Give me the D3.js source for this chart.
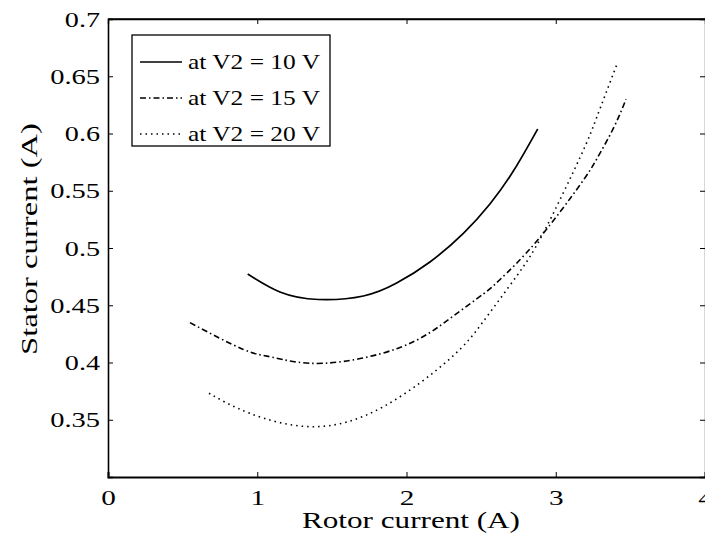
<!DOCTYPE html>
<html>
<head>
<meta charset="utf-8">
<script src="https://cdn.jsdelivr.net/npm/d3@7"></script>
<style>
  html, body { margin: 0; padding: 0; background: #fff; }
  svg { display: block; }
  text { font-family: "Liberation Serif", "Times New Roman", serif; fill: #000; }
</style>
</head>
<body>
<svg id="chart" width="705" height="543"></svg>
<script>
// Rotor current (A) vs stator current (A) for three rotor voltages
const seriesNames = ["at V2 = 10 V", "at V2 = 15 V", "at V2 = 20 V"];

const rotor10  = [0.936, 1.152, 1.409, 1.711, 1.934, 2.157, 2.381, 2.559, 2.716, 2.879];
const stator10 = [0.4773, 0.4616, 0.4550, 0.4581, 0.4694, 0.4878, 0.5128, 0.5384, 0.5672, 0.6039];

const rotor15  = [0.549, 0.907, 1.108, 1.443, 1.956, 2.291, 2.515, 2.627, 2.872, 3.162, 3.274, 3.386, 3.471];
const stator15 = [0.4348, 0.4114, 0.4044, 0.3993, 0.4131, 0.4384, 0.4599, 0.4725, 0.5059, 0.5550, 0.5776, 0.6045, 0.6300];

const rotor20  = [0.677, 0.951, 1.376, 1.845, 2.291, 2.515, 2.738, 2.917, 3.162, 3.274, 3.412];
const stator20 = [0.3731, 0.3556, 0.3439, 0.3614, 0.4033, 0.4359, 0.4755, 0.5132, 0.5789, 0.6139, 0.6611];

const xTicks = [0, 1, 2, 3, 4];
const yTicks = [0.35, 0.4, 0.45, 0.5, 0.55, 0.6, 0.65, 0.7];

const dashes = [null, "6,3,1.5,3", "1.5,4"];

const svg = d3.select("#chart");
const L = 108, R = 705, T = 19, B = 477;

const x = d3.scaleLinear().domain([0, 4]).range([L, R]);
const y = d3.scaleLinear().domain([0.3, 0.7]).range([B, T]);

// width of a numeric label in this wide serif face
const numWidth = s => s.replace(/\./g, "").length * 14.6 + (s.split(".").length - 1) * 6;

// frame
svg.append("line").attr("x1", L).attr("x2", R).attr("y1", T).attr("y2", T)
  .attr("stroke", "#000").attr("stroke-width", 1.3);

// axes with inward ticks
const axB = svg.append("g").attr("transform", `translate(0,${B})`)
  .call(d3.axisBottom(x).tickValues(xTicks).tickSize(-5).tickPadding(12).tickFormat(d3.format("d")));
const axL = svg.append("g").attr("transform", `translate(${L},0)`)
  .call(d3.axisLeft(y).tickValues(yTicks).tickSize(-5).tickPadding(8).tickFormat(d => String(+d.toFixed(2))));
const axT = svg.append("g").attr("transform", `translate(0,${T})`)
  .call(d3.axisTop(x).tickValues(xTicks).tickSize(-5).tickFormat(""));
const axR = svg.append("g").attr("transform", `translate(${R},0)`)
  .call(d3.axisRight(y).tickValues(yTicks).tickSize(-5).tickFormat(""));

[axB, axL, axT, axR].forEach(g => {
  g.selectAll(".domain").attr("stroke", "#000").attr("stroke-width", 1.3);
  g.selectAll(".tick line").attr("stroke", "#000").attr("stroke-width", 1);
  g.selectAll(".tick text")
    .style("font-family", "'Liberation Serif', serif").style("font-size", "22px").attr("fill", "#000")
    .attr("textLength", function () { return numWidth(this.textContent); })
    .attr("lengthAdjust", "spacingAndGlyphs");
});
axB.selectAll(".domain").attr("stroke-width", 2);
axL.selectAll(".domain").attr("stroke-width", 1.6);

// axis titles
svg.append("text").attr("x", 411).attr("y", 528).attr("text-anchor", "middle")
  .style("font-size", "23px").attr("textLength", 218).attr("lengthAdjust", "spacingAndGlyphs")
  .text("Rotor current (A)");
svg.append("text").attr("transform", "translate(37,239) rotate(-90)").attr("text-anchor", "middle")
  .style("font-size", "23px").attr("textLength", 232).attr("lengthAdjust", "spacingAndGlyphs")
  .text("Stator current (A)");

// curves
const line = d3.line().x(d => x(d[0])).y(d => y(d[1])).curve(d3.curveNatural);
const data = [
  d3.zip(rotor10, stator10),
  d3.zip(rotor15, stator15),
  d3.zip(rotor20, stator20)
];
data.forEach((pts, i) => {
  svg.append("path").datum(pts).attr("d", line)
    .attr("fill", "none").attr("stroke", "#000")
    .attr("stroke-width", i === 0 ? 1.7 : 1.6)
    .attr("stroke-dasharray", dashes[i]);
});

// legend
const lg = svg.append("g");
lg.append("rect").attr("x", 132).attr("y", 35).attr("width", 198).attr("height", 111)
  .attr("fill", "#fff").attr("stroke", "#000").attr("stroke-width", 1.3);
seriesNames.forEach((name, i) => {
  const yy = 62 + i * 36;
  lg.append("line").attr("x1", 140).attr("x2", 182).attr("y1", yy).attr("y2", yy)
    .attr("stroke", "#000").attr("stroke-width", 1.7).attr("stroke-dasharray", dashes[i]);
  lg.append("text").attr("x", 188).attr("y", yy + 7).style("font-size", "21px")
    .attr("textLength", 132).attr("lengthAdjust", "spacingAndGlyphs").text(name);
});
</script>
</body>
</html>
